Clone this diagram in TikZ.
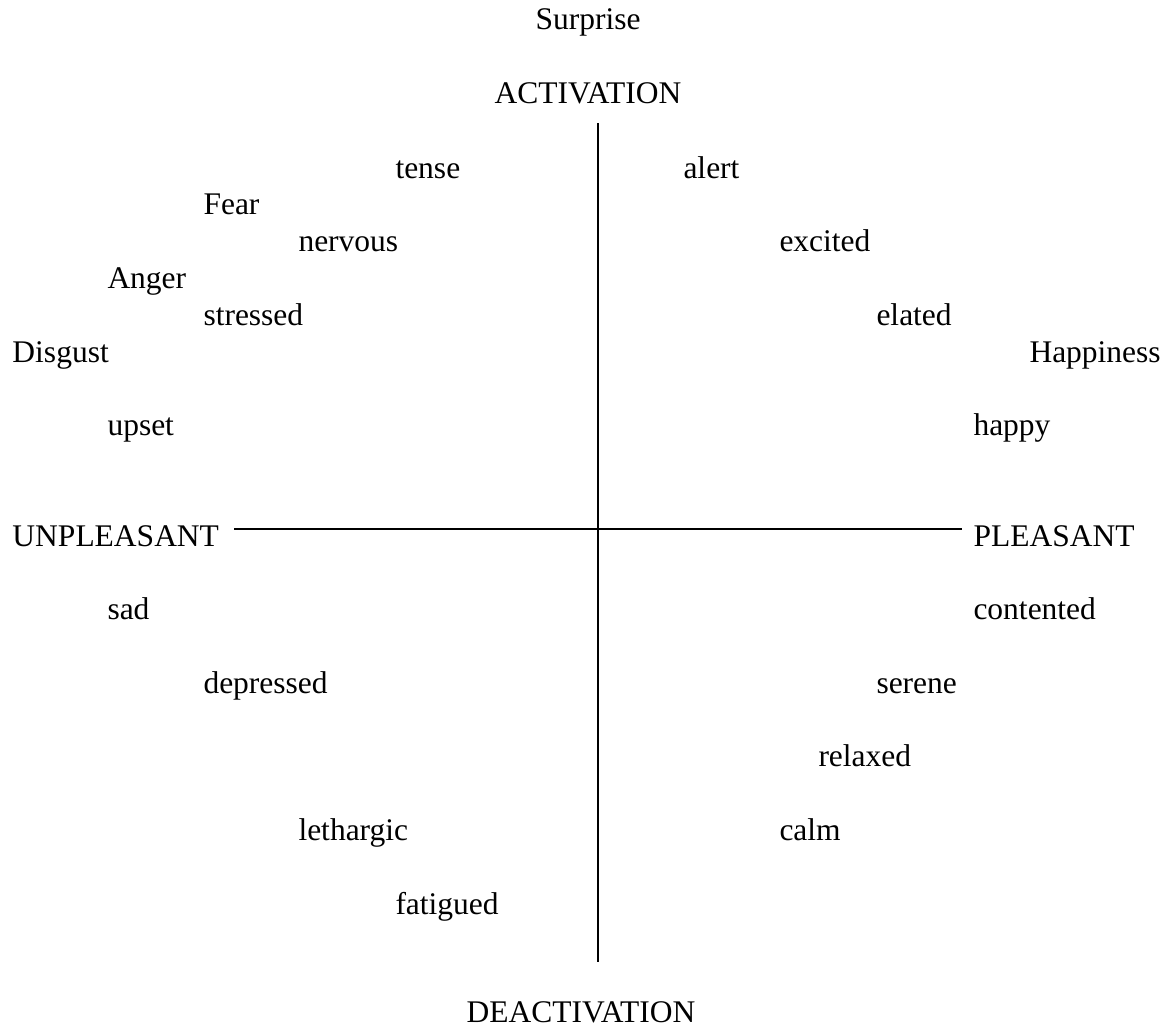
\documentclass[tikz,border=0pt]{standalone}
\usepackage{fontspec}
\setmainfont{Liberation Serif}
\usetikzlibrary{calc}

\tikzset{
	word/.style={anchor=base west, inner sep=0pt, font=\fontsize{12.6pt}{15pt}\selectfont},
	pole/.style={word, anchor=base},
	axisline/.style={line width=0.8pt}
}

\begin{document}
\begin{tikzpicture}[x=0.4pt, y=-0.4pt]
			\useasboundingbox (0, 0) rectangle (1167, 1028);

			\coordinate (atop) at (597.5, 123);
			\coordinate (abottom) at (597.5, 962);
			\coordinate (aleft) at (234, 528.5);
			\coordinate (aright) at (962, 528.5);
			\draw[axisline](atop)--(abottom);
			\draw[axisline](aleft)--(aright);

			\node[pole] (surprise) at (588, 29) {Surprise};
			\node[pole] (activation) at (588, 103) {ACTIVATION};
			\node[pole] (deactivation) at (581, 1022) {DEACTIVATION};
			\node[word] (unpleasant) at (12, 546) {UNPLEASANT};
			\node[word] (pleasant) at (973, 546) {PLEASANT};

			\node[word] (tense) at (395, 178) {tense};
			\node[word] (alert) at (683, 178) {alert};
			\node[word] (fear) at (203, 214.8) {Fear};
			\node[word] (nervous) at (298, 251.6) {nervous};
			\node[word] (excited) at (779, 251.6) {excited};
			\node[word] (anger) at (107, 288.4) {Anger};
			\node[word] (stressed) at (203, 325.2) {stressed};
			\node[word] (elated) at (876, 325.2) {elated};
			\node[word] (disgust) at (12, 362) {Disgust};
			\node[word] (happiness) at (1029, 362) {Happiness};
			\node[word] (upset) at (107, 435.6) {upset};
			\node[word] (happy) at (973, 435.6) {happy};

			\node[word] (sad) at (107, 619.6) {sad};
			\node[word] (contented) at (973, 619.6) {contented};
			\node[word] (depressed) at (203, 693.2) {depressed};
			\node[word] (serene) at (876, 693.2) {serene};
			\node[word] (relaxed) at (818, 766.8) {relaxed};
			\node[word] (lethargic) at (298, 840.4) {lethargic};
			\node[word] (calm) at (779, 840.4) {calm};
			\node[word] (fatigued) at (395, 914) {fatigued};
		\end{tikzpicture}
\end{document}
